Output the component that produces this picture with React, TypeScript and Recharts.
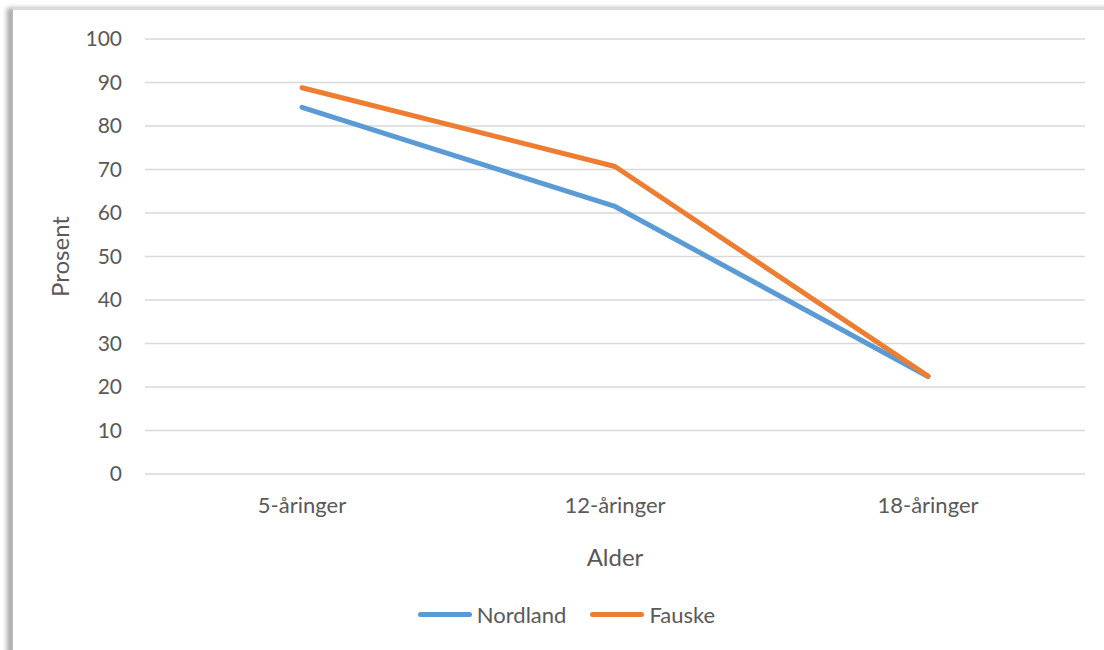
import React from 'react';
import { LineChart, Line, XAxis, YAxis, CartesianGrid, Legend } from 'recharts';

const ageGroups = ['5-åringer', '12-åringer', '18-åringer'];
const nordland = [84.3, 61.5, 22.4];
const fauske = [88.8, 70.7, 22.5];
const yTicks = [0, 10, 20, 30, 40, 50, 60, 70, 80, 90, 100];

const BLUE = '#5b9bd5';
const ORANGE = '#ed7d31';
const TEXT = '#595959';
const FONT = 'Lato, "Open Sans", sans-serif';

const data = ageGroups.map((age, i) => ({
  age,
  Nordland: nordland[i],
  Fauske: fauske[i],
}));

const series = [
  { key: 'Nordland', color: BLUE },
  { key: 'Fauske', color: ORANGE },
];

const ChartLegend = () => (
  <div
    style={{
      display: 'flex',
      justifyContent: 'center',
      alignItems: 'center',
      height: 30,
      paddingLeft: 72,
      fontFamily: FONT,
      fontSize: 22,
      color: TEXT,
    }}
  >
    {series.map((s) => (
      <div key={s.key} style={{ display: 'flex', alignItems: 'center', marginRight: 24 }}>
        <span
          style={{
            display: 'inline-block',
            width: 54,
            height: 5,
            borderRadius: 3,
            background: s.color,
            marginRight: 5,
          }}
        />
        <span>{s.key}</span>
      </div>
    ))}
  </div>
);

const App: React.FC = () => {
  return (
    <div
      style={{
        position: 'absolute',
        left: 0,
        top: 0,
        width: 1104,
        height: 650,
        overflow: 'hidden',
        background: '#fff',
      }}
    >
      <div
        style={{
          position: 'absolute',
          left: 11,
          top: 8,
          width: 1120,
          height: 700,
          borderTop: '2px solid #dcdcdc',
          borderLeft: '2px solid #b8b8b8',
          boxShadow: '-4px 0 5px rgba(0,0,0,0.35)',
          background: '#fff',
        }}
      />
      <div style={{ position: 'absolute', left: 0, top: 0 }}>
        <LineChart
          width={1104}
          height={650}
          data={data}
          margin={{ top: 39, right: 19, left: 0, bottom: 21 }}
        >
          <CartesianGrid vertical={false} stroke="#d9d9d9" strokeWidth={1.5} />
          <XAxis
            dataKey="age"
            height={125}
            padding={{ left: 157, right: 157 }}
            axisLine={false}
            tickLine={false}
            tickSize={0}
            tickMargin={23}
            tick={{ fill: TEXT, fontSize: 22, fontFamily: FONT }}
            label={(props: any) => {
              const vb = props.viewBox;
              return (
                <text
                  x={vb.x + vb.width / 2}
                  y={vb.y + 86}
                  textAnchor="middle"
                  dominantBaseline="middle"
                  fill={TEXT}
                  fontSize={24}
                  fontFamily={FONT}
                >
                  Alder
                </text>
              );
            }}
          />
          <YAxis
            width={145}
            domain={[0, 100]}
            ticks={yTicks}
            axisLine={false}
            tickLine={false}
            tickSize={0}
            tickMargin={23}
            tick={{ fill: TEXT, fontSize: 21, fontFamily: FONT }}
            label={(props: any) => {
              const vb = props.viewBox;
              const cx = vb.x + 63;
              const cy = vb.y + vb.height / 2;
              return (
                <text
                  x={cx}
                  y={cy}
                  transform={`rotate(-90 ${cx} ${cy})`}
                  textAnchor="middle"
                  dominantBaseline="middle"
                  fill={TEXT}
                  fontSize={24}
                  fontFamily={FONT}
                >
                  Prosent
                </text>
              );
            }}
          />
          <Legend verticalAlign="bottom" content={<ChartLegend />} />
          {series.map((s) => (
            <Line
              key={s.key}
              dataKey={s.key}
              stroke={s.color}
              strokeWidth={5}
              strokeLinecap="round"
              strokeLinejoin="round"
              dot={false}
              activeDot={false}
              isAnimationActive={false}
            />
          ))}
        </LineChart>
      </div>
    </div>
  );
};

export default App;
